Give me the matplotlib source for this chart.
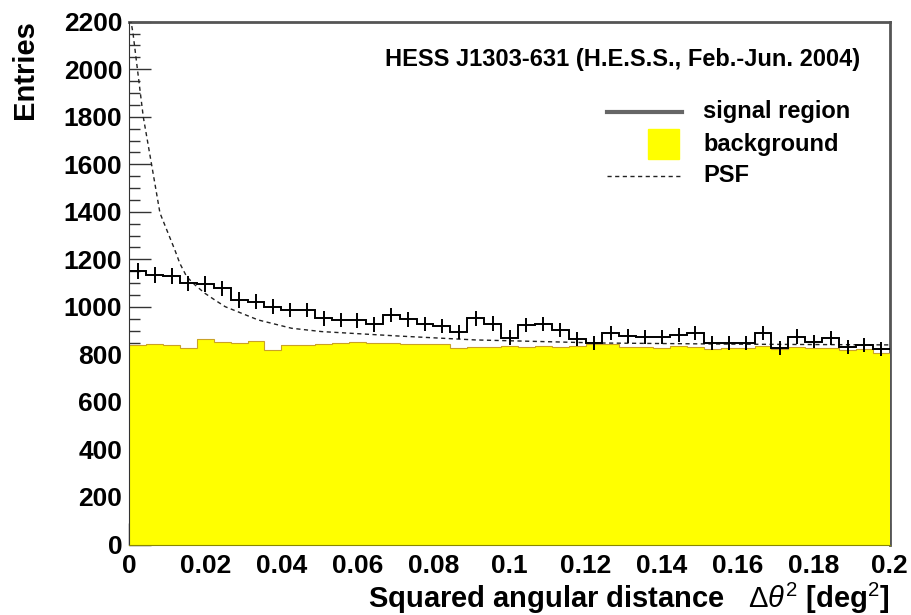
import matplotlib.pyplot as plt
import numpy as np
from matplotlib.ticker import MultipleLocator, FuncFormatter

plt.rcParams['font.family'] = ['Liberation Sans', 'DejaVu Sans']
plt.rcParams['mathtext.fontset'] = 'custom'
plt.rcParams['mathtext.rm'] = 'Liberation Sans'
plt.rcParams['mathtext.it'] = 'Liberation Sans:italic'

# 45 bins in theta^2 from 0 to 0.2 deg^2
bin_edges = np.linspace(0.0, 0.2, 46)

signal = [1152, 1134, 1130, 1099, 1096, 1078, 1029, 1022, 1001, 987,
          987, 952, 945, 943, 926, 966, 947, 928, 920, 893,
          952, 930, 871, 924, 928, 903, 864, 847, 891, 878,
          872, 872, 882, 889, 847, 849, 847, 891, 826, 875,
          854, 868, 832, 840, 822]
signal_err = [34, 34, 34, 33, 33, 33, 32, 32, 32, 31,
              31, 31, 31, 31, 30, 31, 31, 30, 30, 30,
              31, 30, 30, 30, 30, 30, 29, 29, 30, 30,
              30, 30, 30, 30, 29, 29, 29, 30, 29, 30,
              29, 29, 29, 29, 29]
background = [840, 842, 838, 828, 866, 852, 850, 855, 820, 838,
              840, 842, 848, 852, 850, 846, 845, 843, 844, 826,
              830, 832, 834, 830, 836, 833, 835, 845, 842, 830,
              832, 828, 834, 830, 822, 825, 826, 834, 822, 832,
              826, 828, 820, 822, 808]

psf_x = [0.0, 0.00045, 0.00097, 0.00368, 0.00589, 0.00807, 0.0120, 0.0133,
         0.0151, 0.0173, 0.0199, 0.0225, 0.0252, 0.0339, 0.0427, 0.0506,
         0.0712, 0.0909, 0.1238, 0.1600, 0.2000]
psf_y = [2245, 2200, 2153, 1800, 1597, 1395, 1239, 1183,
         1127, 1092, 1057, 1029, 1001, 945, 910, 896,
         877, 861, 848, 843, 840]

fig = plt.figure(figsize=(9.11, 6.15), dpi=100)
ax = fig.add_axes([0.1419, 0.1146, 0.8348, 0.8501])

centers = 0.5 * (bin_edges[:-1] + bin_edges[1:])

ax.stairs(background, bin_edges, fill=True, color='#ffff00', zorder=3)
ax.stairs(background, bin_edges, color='#c9a227', lw=0.8, baseline=None, zorder=3.1)
ax.plot(psf_x, psf_y, color='#222222', lw=1.0, ls=(0, (3, 2.5)), zorder=3.5)
ax.stairs(signal, bin_edges, color='black', lw=1.4, baseline=None, zorder=4)
ax.errorbar(centers, signal, yerr=signal_err, fmt='none', ecolor='black',
            elinewidth=1.4, capsize=0, zorder=4)

ax.set_xlim(0, 0.2)
ax.set_ylim(0, 2200)

ax.xaxis.set_major_locator(MultipleLocator(0.02))
ax.xaxis.set_minor_locator(MultipleLocator(0.004))
ax.yaxis.set_major_locator(MultipleLocator(200))
ax.yaxis.set_minor_locator(MultipleLocator(50))
ax.xaxis.set_major_formatter(FuncFormatter(lambda v, p: '%g' % round(v, 3)))
ax.tick_params(which='both', direction='in', top=False, right=False,
               labelsize=19, width=1, color='#333333')
ax.tick_params(which='major', length=16)
ax.tick_params(which='minor', length=8)
ax.tick_params(axis='x', pad=7)
ax.tick_params(axis='y', pad=5)
for lab in ax.get_xticklabels() + ax.get_yticklabels():
    lab.set_fontweight('bold')

for side in ['top', 'right']:
    ax.spines[side].set_color('#555555')
    ax.spines[side].set_linewidth(2)
ax.spines['left'].set_zorder(5)
ax.spines['bottom'].set_zorder(5)
ax.spines['left'].set_color('#333333')
ax.spines['bottom'].set_color('#888800')

fig.text(25 / 911, 1 - 20 / 615, 'Entries', rotation=90, ha='center', va='top',
         fontsize=21, fontweight='bold')
fig.text(890 / 911, 1 - 598 / 615,
         r'Squared angular distance   $\Delta\theta^{2}$ [deg$^{2}$]',
         ha='right', va='center', fontsize=21, fontweight='bold')

# legend drawn by hand, ROOT style
ax.text(0.648, 0.928, 'HESS J1303-631 (H.E.S.S., Feb.-Jun. 2004)', transform=ax.transAxes,
        ha='center', va='center', fontsize=17, fontweight='bold')
leg_y = [0.828, 0.766, 0.705]
ax.plot([0.628, 0.727], [leg_y[0]] * 2, transform=ax.transAxes, color='#666666', lw=3,
        zorder=6)
ax.add_patch(plt.Rectangle((0.682, leg_y[1] - 0.029), 0.041, 0.058, transform=ax.transAxes,
                           color='#ffff00', zorder=6))
ax.plot([0.628, 0.727], [leg_y[2]] * 2, transform=ax.transAxes, color='#222222', lw=1,
        ls=(0, (3, 2.5)), zorder=6)
for yy, name in zip(leg_y, ['signal region', 'background', 'PSF']):
    ax.text(0.755, yy, name, transform=ax.transAxes, ha='left', va='center',
            fontsize=17, fontweight='bold')

fig.savefig('out.png', dpi=100)
